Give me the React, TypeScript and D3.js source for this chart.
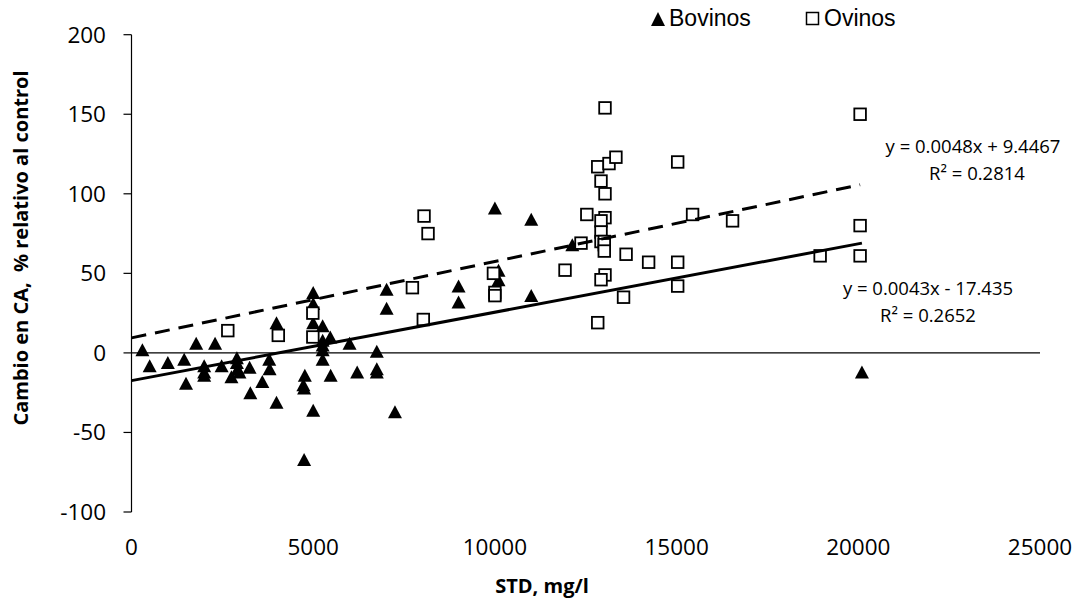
import React from "react";
import * as d3 from "d3";

// Salinity of drinking water (STD, mg/l) vs. change in CA relative to control
const bovinosX = [300, 500, 1000, 1450, 1500, 1780, 2000, 2000, 2000, 2300, 2480, 2750, 2900, 2900, 2920, 2970, 3250, 3270, 3600, 3790, 3800, 3990, 3990, 4770, 4730, 4750, 4750, 5000, 5000, 5000, 5000, 5260, 5260, 5260, 5260, 5260, 5470, 5480, 6000, 6210, 6750, 6750, 6750, 7250, 7020, 7020, 9000, 9000, 10000, 10100, 10100, 10000, 11000, 11000, 12130, 20100];
const bovinosY = [2, -8, -6, -4, -19, 6, -8, -12, -14, 6, -8, -15, -3, -6, -10, -12, -9, -25, -18, -4, -10, -31, 19, -14, -20, -22, -67, -36, 38, 31, 19, 17, 8, 5, 2, -4, 10, -14, 6, -12, 1, -10, -12, -37, 40, 28, 42, 32, 91, 52, 46, 37, 84, 36, 68, -12];

const ovinosX = [2650, 4040, 4990, 4990, 7730, 8030, 8050, 8160, 9960, 10000, 10000, 11930, 12370, 12530, 12830, 12920, 13030, 13030, 13030, 13030, 13140, 13330, 12920, 12920, 12920, 12920, 13010, 13010, 13010, 13610, 14230, 15030, 15030, 15030, 15440, 16540, 18950, 20050, 20050, 20050, 13540, 12830];
const ovinosY = [14, 11, 25, 10, 41, 21, 86, 75, 50, 38, 36, 52, 69, 87, 117, 108, 100, 154, 85, 49, 119, 123, 83, 76, 70, 46, 70, 68, 64, 62, 57, 57, 42, 120, 87, 83, 61, 150, 80, 61, 35, 19];

// Linear trend coefficients (slope, intercept) and R²
const ovinosFit = [0.0048, 9.4467, 0.2814];
const bovinosFit = [0.0043, -17.435, 0.2652];

const xTicks = [0, 5000, 10000, 15000, 20000, 25000];
const yTicks = [-100, -50, 0, 50, 100, 150, 200];

const seriesNames = ["Bovinos", "Ovinos"];

const W = 1081;
const H = 602;

const tickFont = "'Open Sans', sans-serif";
const legendFont = "'Liberation Sans', Arial, sans-serif";

export default function App() {
  const x = d3.scaleLinear().domain([0, 25000]).range([131.5, 1040]);
  const y = d3.scaleLinear().domain([-100, 200]).range([512, 34.7]);

  const bovinos = bovinosX.map((v, i) => [v, bovinosY[i]] as [number, number]);
  const ovinos = ovinosX.map((v, i) => [v, ovinosY[i]] as [number, number]);

  const line = d3
    .line<[number, number]>()
    .x((d) => x(d[0]))
    .y((d) => y(d[1]));

  const fitLine = (fit: number[], x0: number, x1: number) =>
    line([
      [x0, fit[0] * x0 + fit[1]],
      [x1, fit[0] * x1 + fit[1]],
    ]);

  const bovMax = d3.max(bovinosX) as number;
  const ovMax = d3.max(ovinosX) as number;

  const tri = (cx: number, cy: number, hw = 7, h = 13) =>
    `M${cx},${cy - h / 2}L${cx + hw},${cy + h / 2}L${cx - hw},${cy + h / 2}Z`;

  const eq = (fit: number[]) =>
    `y = ${fit[0]}x ${fit[1] < 0 ? "-" : "+"} ${Math.abs(fit[1])}`;

  const eqSize = 18.5;

  return (
    <svg
      width={W}
      height={H}
      style={{ position: "fixed", left: 0, top: 0, background: "#fff" }}
    >
      <rect x={0} y={0} width={W} height={H} fill="#fff" />

      {/* y axis with outward ticks */}
      <line x1={x(0)} x2={x(0)} y1={y(200)} y2={y(-100)} stroke="#000" strokeWidth={1.2} />
      {yTicks.map((t) => (
        <g key={"yt" + t}>
          <line x1={x(0) - 8} x2={x(0)} y1={y(t)} y2={y(t)} stroke="#000" strokeWidth={1.2} />
          <text
            x={106}
            y={y(t)}
            dy="0.35em"
            textAnchor="end"
            fontFamily={tickFont}
            fontSize={22.5}
            fill="#000"
          >
            {t}
          </text>
        </g>
      ))}

      {/* horizontal axis crossing at zero */}
      <line x1={x(0)} x2={x(25000)} y1={y(0)} y2={y(0)} stroke="#000" strokeWidth={1.2} />
      {xTicks.map((t) => (
        <text
          key={"xt" + t}
          x={x(t)}
          y={555}
          textAnchor="middle"
          fontFamily={tickFont}
          fontSize={22.5}
          fill="#000"
        >
          {t}
        </text>
      ))}

      {/* axis titles */}
      <text
        x={542}
        y={593}
        textAnchor="middle"
        fontFamily={tickFont}
        fontWeight="bold"
        fontSize={20}
        fill="#000"
      >
        STD, mg/l
      </text>
      <text
        transform="translate(28,248) rotate(-90)"
        textAnchor="middle"
        fontFamily={tickFont}
        fontWeight="bold"
        fontSize={20}
        fill="#000"
        style={{ whiteSpace: "pre" }}
      >
        {"Cambio en CA,  % relativo al control"}
      </text>

      {/* Bovinos markers */}
      {bovinos.map((d, i) => (
        <path key={"b" + i} d={tri(x(d[0]), y(d[1]))} fill="#000" />
      ))}

      {/* Ovinos markers */}
      {ovinos.map((d, i) => (
        <rect
          key={"o" + i}
          x={x(d[0]) - 5.8}
          y={y(d[1]) - 5.8}
          width={11.6}
          height={11.6}
          fill="#fff"
          stroke="#000"
          strokeWidth={1.8}
        />
      ))}

      {/* trend lines */}
      <path d={fitLine(bovinosFit, 0, bovMax) || ""} fill="none" stroke="#000" strokeWidth={3} />
      <path
        d={fitLine(ovinosFit, 0, ovMax) || ""}
        fill="none"
        stroke="#000"
        strokeWidth={3}
        strokeDasharray="15,9"
      />

      {/* trend equations */}
      <text x={973} y={153} textAnchor="middle" fontFamily={tickFont} fontSize={eqSize} fill="#000">
        {eq(ovinosFit)}
      </text>
      <text x={977} y={179.5} textAnchor="middle" fontFamily={tickFont} fontSize={eqSize} fill="#000">
        {`R² = ${ovinosFit[2]}`}
      </text>
      <text x={928} y={295} textAnchor="middle" fontFamily={tickFont} fontSize={eqSize} fill="#000">
        {eq(bovinosFit)}
      </text>
      <text x={928} y={321.5} textAnchor="middle" fontFamily={tickFont} fontSize={eqSize} fill="#000">
        {`R² = ${bovinosFit[2]}`}
      </text>

      {/* legend */}
      <path d={tri(658, 19, 7, 14)} fill="#000" />
      <text x={669} y={26} fontFamily={legendFont} fontSize={23} fill="#000">
        {seriesNames[0]}
      </text>
      <rect x={806.5} y={12.5} width={12} height={12} fill="#fff" stroke="#000" strokeWidth={1.5} />
      <text x={824} y={26} fontFamily={legendFont} fontSize={23} fill="#000">
        {seriesNames[1]}
      </text>
    </svg>
  );
}
